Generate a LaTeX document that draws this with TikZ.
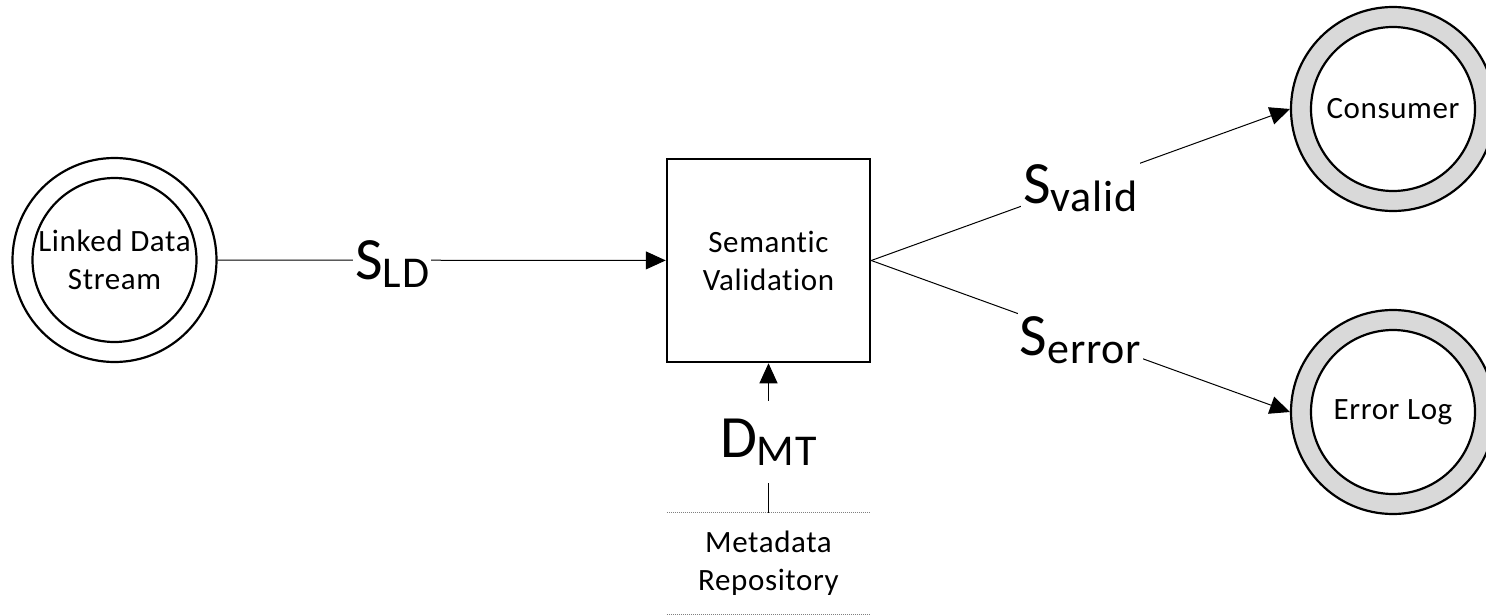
\documentclass[tikz,border=0pt]{standalone}
\usepackage{fontspec}
\setmainfont{Carlito}[Ligatures={NoCommon,NoContextual}, LetterSpace=2]
\usetikzlibrary{arrows.meta}
\definecolor{ringgray}{HTML}{D9D9D9}
% flow name with a lowered, smaller suffix
\newcommand\flowname[2]{#1\raisebox{-8pt}{\fontsize{44}{44}\selectfont #2}}
\begin{document}
\begin{tikzpicture}[x=1pt,y=-1pt,
  every node/.style={font=\fontsize{31}{38}\selectfont},
  ring/.style={circle, draw, line width=2.2pt, minimum size=204pt, inner sep=0pt},
  core/.style={circle, draw, line width=2.2pt, minimum size=164pt, inner sep=0pt},
  procbox/.style={draw, line width=2.5pt, minimum size=203pt, inner sep=0pt, align=center},
  txt/.style={align=center, inner sep=0pt},
  flow/.style={line width=1pt, -{Triangle[length=20pt,width=18pt]}},
  flowlbl/.style={fill=white, inner xsep=2pt, inner ysep=18pt, anchor=base, yshift=-19pt,
                  font=\fontsize{60}{60}\selectfont},
  storeline/.style={gray, line width=0.8pt, dash pattern=on 1pt off 1pt}
]
\useasboundingbox (0,0) rectangle (1486,615);

% external source
\node[ring] (lds) at (114.5,260) {};
\node[core] (lds-in) at (lds) {};
\node[txt] (lds-txt) at (lds) {Linked Data\\Stream};

% process
\node[procbox] (sv) at (768.5,260.5) {Semantic\\Validation};

% sinks
\node[ring, fill=ringgray] (cons) at (1393,109) {};
\node[core, fill=white] (cons-in) at (cons) {};
\node[txt] (cons-txt) at (cons) {Consumer};

\node[ring, fill=ringgray] (elog) at (1393,412) {};
\node[core, fill=white] (elog-in) at (elog) {};
\node[txt] (elog-txt) at (elog) {Error Log};

% data store
\node[txt, minimum width=203pt, minimum height=101pt] (repo) at (768.5,563.5) {Metadata\\Repository};
\draw[storeline] (repo.north west) -- (repo.north east);
\draw[storeline] (repo.south west) -- (repo.south east);

% flows
\draw[flow] (lds) -- node[flowlbl, pos=0.39] (lbl-ld) {\flowname{S}{LD}} (sv);
\draw[flow] (sv.east) -- node[flowlbl] (lbl-valid) {\flowname{S}{valid}} (cons.west);
\draw[flow] (sv.east) -- node[flowlbl] (lbl-error) {\flowname{S}{error}} (elog.west);
\draw[flow] (repo.north) -- node[flowlbl] (lbl-mt) {\flowname{D}{MT}} (sv.south);
\end{tikzpicture}
\end{document}
